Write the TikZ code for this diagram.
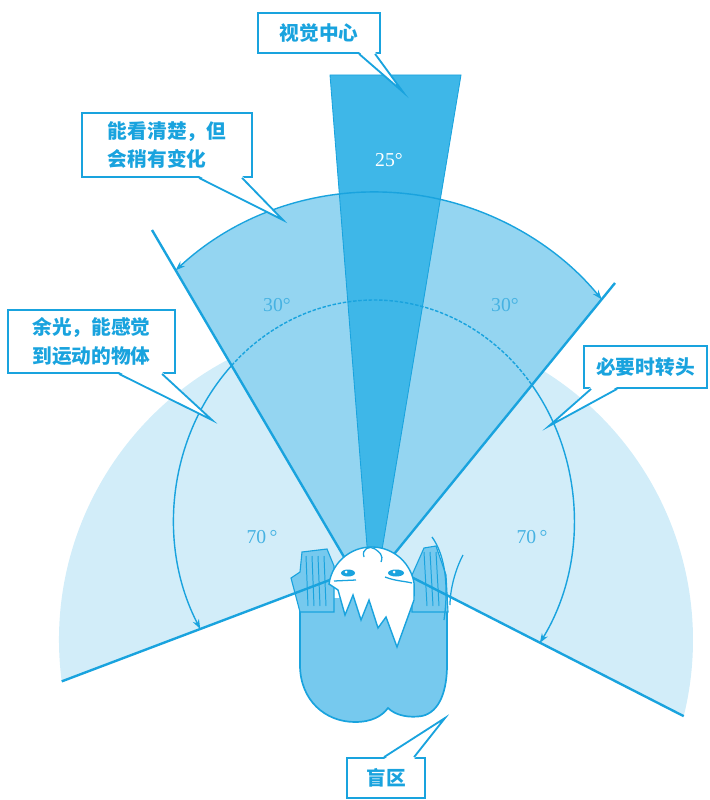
\documentclass[tikz,border=0pt]{standalone}
\usepackage{fontspec}
\setmainfont{Liberation Serif}
\newfontfamily\cjk{Noto Sans CJK SC}
\usepackage{tikz}
\usetikzlibrary{arrows.meta,calc}

\definecolor{linecol}{RGB}{25,163,222}
\definecolor{darkfill}{RGB}{62,183,232}
\definecolor{midfill}{RGB}{148,213,241}
\definecolor{lightfill}{RGB}{210,237,249}
\definecolor{bodyfill}{RGB}{118,201,238}
\definecolor{labelcol}{RGB}{70,178,226}

\begin{document}
\begin{tikzpicture}[x=0.025cm, y=-0.025cm,
    edge/.style={linecol, line width=1.7pt},
    sweep/.style={linecol, line width=1pt},
    tip/.style={-{Stealth[length=2.4mm,width=1.7mm]}},
    tips/.style={{Stealth[length=2.4mm,width=1.7mm]}-{Stealth[length=2.4mm,width=1.7mm]}},
    callout/.style={draw=linecol, line width=1.3pt, fill=white, rectangle, inner sep=0pt,
        font=\cjk\bfseries\fontsize{14pt}{20pt}\selectfont, text=linecol},
    tail/.style={linecol, line width=1.3pt},
    deg/.style={font=\fontsize{14pt}{16pt}\selectfont, text=labelcol},
    hair/.style={linecol, line width=0.7pt}]

    \useasboundingbox (0,0) rectangle (709,800);

    % centres and line ends
    \coordinate (apexA) at (364,591);
    \coordinate (apexB) at (380,561);
    \coordinate (cLight) at (376,640);
    \coordinate (cMid) at (375,485);
    \coordinate (cArc) at (374,520);
    \coordinate (topL) at (152,230);
    \coordinate (topR) at (615,283);
    \coordinate (lowL) at ($(cLight)+(172.5:317)$);
    \coordinate (lowR) at ($(cLight)+(13.9:317)$);
    \coordinate (midL) at ($(cMid)+(-132.9:293)$);
    \coordinate (inL) at ($(cArc)+(-135.4:200 and 220)$);
    \coordinate (inR) at ($(cArc)+(-37.9:200 and 220)$);

    % fields of view
    \fill[lightfill] (apexB) -- (lowL) arc[start angle=172.5, end angle=373.9, radius=317] -- cycle;
    \fill[midfill] (apexA) -- (midL) arc[start angle=-132.9, end angle=-39.3, radius=293] -- cycle;
    \filldraw[fill=darkfill, draw=linecol, line width=0.6pt] (330,75) -- (461,75) -- (372,610) -- cycle;

    % angle arcs
    \draw[sweep, tips] (midL) arc[start angle=-132.9, end angle=-39.3, radius=293];
    \draw[sweep, tip] (inL) arc[start angle=-135.4, end angle=-209.7, x radius=200, y radius=220];
    \draw[sweep, dash pattern=on 2.5pt off 1.2pt] (inL) arc[start angle=-135.4, end angle=-37.9, x radius=200, y radius=220];
    \draw[sweep, tip] (inR) arc[start angle=-37.9, end angle=34, x radius=200, y radius=220];

    % degree labels
    \node[deg, text=white] (d25) at (389,160) {25°};
    \node[deg] (d30l) at (277,305) {30°};
    \node[deg] (d30r) at (505,305) {30°};
    \node[deg] (d70l) at (262,537) {70\,°};
    \node[deg] (d70r) at (532,537) {70\,°};

    % body and hair
    \filldraw[fill=bodyfill, draw=linecol, line width=1.2pt] (300,598) -- (300,665)
        .. controls (300,700) and (325,722) .. (355,722)
        .. controls (372,722) and (382,716) .. (388,708)
        .. controls (396,716) and (410,718) .. (422,716)
        .. controls (440,712) and (447,690) .. (447,665) -- (447,598);
    \filldraw[fill=bodyfill, draw=linecol, line width=0.8pt] (291,578) -- (300,572) -- (302,552)
        -- (327,549) -- (334,566) -- (334,612) -- (300,612) -- cycle;
    \foreach \x in {306,312,318,324}
        \draw[hair] (\x,556) -- (\x+2,606);
    \filldraw[fill=bodyfill, draw=linecol, line width=0.8pt] (412,575) -- (424,548) -- (436,546)
        -- (446,575) -- (448,612) -- (412,612) -- cycle;
    \foreach \x in {424,430,436}
        \draw[hair] (\x,552) -- (\x+3,606);
    \draw[hair, line width=0.9pt] (432,537) .. controls (445,555) and (449,585) .. (444,620);
    \draw[hair, line width=0.9pt] (463,555) .. controls (455,570) and (450,590) .. (450,605);

    % boundary lines
    \draw[edge] (apexA) -- (topL);
    \draw[edge] (apexA) -- (topR);
    \draw[edge] (apexB) -- (lowL);
    \draw[edge] (apexB) -- (lowR);

    % face
    \filldraw[fill=white, draw=linecol, line width=1pt] (329,584) arc[start angle=-172, end angle=-8, radius=43]
        -- (414,600) -- (397,647) -- (386,617) -- (378,628) -- (369,600) -- (361,620)
        -- (353,595) -- (345,615) -- (338,590) -- cycle;
    \fill[linecol] (348,573) ellipse[x radius=7, y radius=3.5];
    \fill[linecol] (396,573) ellipse[x radius=8, y radius=3.5];
    \fill[white] (346,572) circle[radius=1.5];
    \fill[white] (394,572) circle[radius=1.5];
    \draw[hair, line width=0.9pt] (334,581) -- (356,580);
    \draw[hair, line width=0.9pt] (385,577) .. controls (395,581) and (404,581) .. (412,583);
    \draw[hair, line width=0.9pt] (364,557) .. controls (361,549) and (370,545) .. (375,549)
        .. controls (379,552) and (384,555) .. (381,562);

    % callouts
    \node[callout, minimum width=3.05cm, minimum height=1cm] (focus) at (319,33) {视觉中心};
    \coordinate (focusTip) at (403,92);
    \fill[white] ($(focus.south west)+(102,-2)$) -- (focusTip) -- ($(focus.south west)+(118,-2)$) -- cycle;
    \draw[tail] ($(focus.south west)+(102,0)$) -- (focusTip) -- ($(focus.south west)+(118,0)$);

    \node[callout, minimum width=4.25cm, minimum height=1.6cm, align=left] (clear) at (167,145) {能看清楚，但\\会稍有变化};
    \coordinate (clearTip) at (283,220);
    \fill[white] ($(clear.south west)+(118,-2)$) -- (clearTip) -- ($(clear.south west)+(161,-2)$) -- cycle;
    \draw[tail] ($(clear.south west)+(118,0)$) -- (clearTip) -- ($(clear.south west)+(161,0)$);

    \node[callout, minimum width=4.175cm, minimum height=1.575cm, align=left] (side) at (91.5,341.5) {余光，能感觉\\到运动的物体};
    \coordinate (sideTip) at (212,420);
    \fill[white] ($(side.south west)+(112,-2)$) -- (sideTip) -- ($(side.south west)+(155,-2)$) -- cycle;
    \draw[tail] ($(side.south west)+(112,0)$) -- (sideTip) -- ($(side.south west)+(155,0)$);

    \node[callout, minimum width=3.075cm, minimum height=1.05cm] (turn) at (645.5,367) {必要时转头};
    \coordinate (turnTip) at (549,426);
    \fill[white] ($(turn.south west)+(8,-2)$) -- (turnTip) -- ($(turn.south west)+(34,-2)$) -- cycle;
    \draw[tail] ($(turn.south west)+(8,0)$) -- (turnTip) -- ($(turn.south west)+(34,0)$);

    \node[callout, minimum width=1.95cm, minimum height=1cm] (blind) at (386,778) {盲区};
    \coordinate (blindTip) at (445,718);
    \fill[white] ($(blind.north west)+(38,2)$) -- (blindTip) -- ($(blind.north west)+(68,2)$) -- cycle;
    \draw[tail] ($(blind.north west)+(38,0)$) -- (blindTip) -- ($(blind.north west)+(68,0)$);
\end{tikzpicture}
\end{document}
